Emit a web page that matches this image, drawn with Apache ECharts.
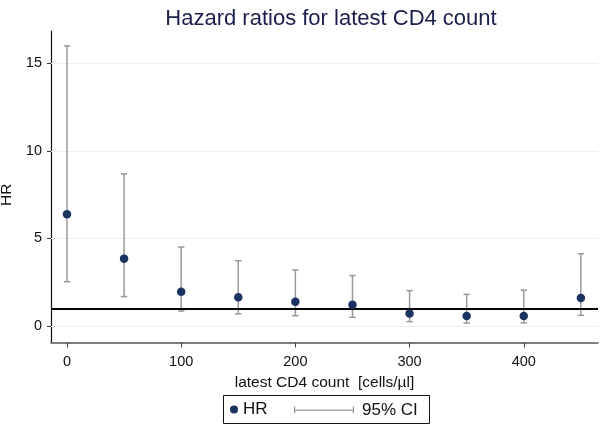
<!DOCTYPE html>
<html>
<head>
<meta charset="utf-8">
<script src="https://cdn.jsdelivr.net/npm/echarts@6/dist/echarts.min.js"></script>
<style>html,body{margin:0;padding:0;background:#fff}#c{width:600px;height:426px}</style>
</head>
<body>
<div id="c"></div>
<script>
var cd4 = [0, 50, 100, 150, 200, 250, 300, 350, 400, 450];
var hr = [6.38, 3.85, 1.96, 1.64, 1.39, 1.22, 0.72, 0.57, 0.57, 1.60];
var ciLow = [2.53, 1.68, 0.86, 0.70, 0.59, 0.50, 0.25, 0.17, 0.18, 0.61];
var ciHigh = [16.0, 8.69, 4.51, 3.73, 3.20, 2.88, 2.02, 1.81, 2.05, 4.13];
var xTicks = [0, 100, 200, 300, 400];
var yTicks = [0, 5, 10, 15];
var refValue = 1;

var font = 'Liberation Sans, Arial, sans-serif';
var chart = echarts.init(document.getElementById('c'));

var ciData = cd4.map(function (x, i) { return [x, ciLow[i], ciHigh[i]]; });
var hrData = cd4.map(function (x, i) { return [x, hr[i]]; });

chart.setOption({
  animation: false,
  backgroundColor: '#fff',
  title: {
    text: 'Hazard ratios for latest CD4 count',
    left: 326, top: 3, textAlign: 'center',
    textStyle: { fontFamily: font, fontSize: 22, fontWeight: 'normal', color: '#1a1f4d' }
  },
  grid: { left: 51, right: 2, top: 31, bottom: 83.5, containLabel: false, outerBoundsMode: 'none' },
  xAxis: {
    type: 'value', min: -14, max: 465,
    name: 'latest CD4 count  [cells/\u00b5l]', nameLocation: 'middle', nameGap: 27,
    nameTextStyle: { fontFamily: font, fontSize: 15.5, color: '#111' },
    axisLine: { show: true, onZero: false, lineStyle: { color: '#555', width: 1.5 } },
    axisTick: { show: true, length: 5, customValues: xTicks, lineStyle: { color: '#444' } },
    axisLabel: { customValues: xTicks, margin: 12, fontFamily: font, fontSize: 14.5, color: '#111' },
    splitLine: { show: false }
  },
  yAxis: {
    type: 'value', min: -0.94, max: 16.85,
    name: 'HR', nameLocation: 'middle', nameGap: 36, nameRotate: 90,
    nameTextStyle: { fontFamily: font, fontSize: 15.5, color: '#111', padding: [0, 0, 0, -16] },
    axisLine: { show: true, onZero: false, lineStyle: { color: '#111', width: 1.2 } },
    axisTick: { show: true, length: 4, customValues: yTicks, lineStyle: { color: '#333' } },
    axisLabel: { customValues: yTicks, margin: 9, fontFamily: font, fontSize: 14.5, color: '#111' },
    splitLine: { show: false }
  },
  legend: [
    {
      data: [{ name: 'HR', icon: 'circle' }],
      left: 230, top: 401, itemWidth: 8, itemHeight: 8, padding: 0,
      textStyle: { fontFamily: font, fontSize: 17, color: '#111' },
      selectedMode: false
    },
    {
      data: [{ name: '95% CI', icon: 'path://M0,0h1.2v7h-1.2z M1,3h58v1.2h-58z M58.8,0h1.2v7h-1.2z' }],
      left: 294, top: 401.5, itemWidth: 60, itemHeight: 7, padding: 0, itemGap: 0,
      textStyle: { fontFamily: font, fontSize: 17, color: '#111', padding: [0, 0, 0, 3] },
      selectedMode: false
    }
  ],
  graphic: [{
    type: 'rect', shape: { x: 223.5, y: 395.5, width: 206, height: 28 },
    style: { fill: 'none', stroke: '#111', lineWidth: 1 }, z: 10
  }],
  series: [
    {
      name: '95% CI', type: 'custom', z: 2,
      itemStyle: { color: '#999' },
      data: ciData,
      renderItem: function (params, api) {
        var x = api.value(0);
        var lo = api.coord([x, api.value(1)]);
        var hi = api.coord([x, api.value(2)]);
        var w = 3.2;
        var st = { stroke: '#999', lineWidth: 1.5 };
        return {
          type: 'group',
          children: [
            { type: 'line', shape: { x1: lo[0], y1: lo[1], x2: hi[0], y2: hi[1] }, style: st },
            { type: 'line', shape: { x1: lo[0] - w, y1: lo[1], x2: lo[0] + w, y2: lo[1] }, style: st },
            { type: 'line', shape: { x1: hi[0] - w, y1: hi[1], x2: hi[0] + w, y2: hi[1] }, style: st }
          ]
        };
      },
      markLine: {
        z: 1, silent: true, symbol: 'none', label: { show: false },
        lineStyle: { color: '#e8f0f0', width: 1, type: 'solid' },
        data: yTicks.map(function (v) { return { yAxis: v }; })
      }
    },
    {
      name: 'HR', type: 'scatter', z: 4,
      symbol: 'circle', symbolSize: 8.5,
      itemStyle: { color: '#1c3260', opacity: 1 },
      data: hrData,
      markLine: {
        z: 3, silent: true, symbol: 'none', label: { show: false },
        lineStyle: { color: '#000', width: 2, type: 'solid' },
        data: [{ yAxis: refValue }]
      }
    }
  ]
});
</script>
</body>
</html>
